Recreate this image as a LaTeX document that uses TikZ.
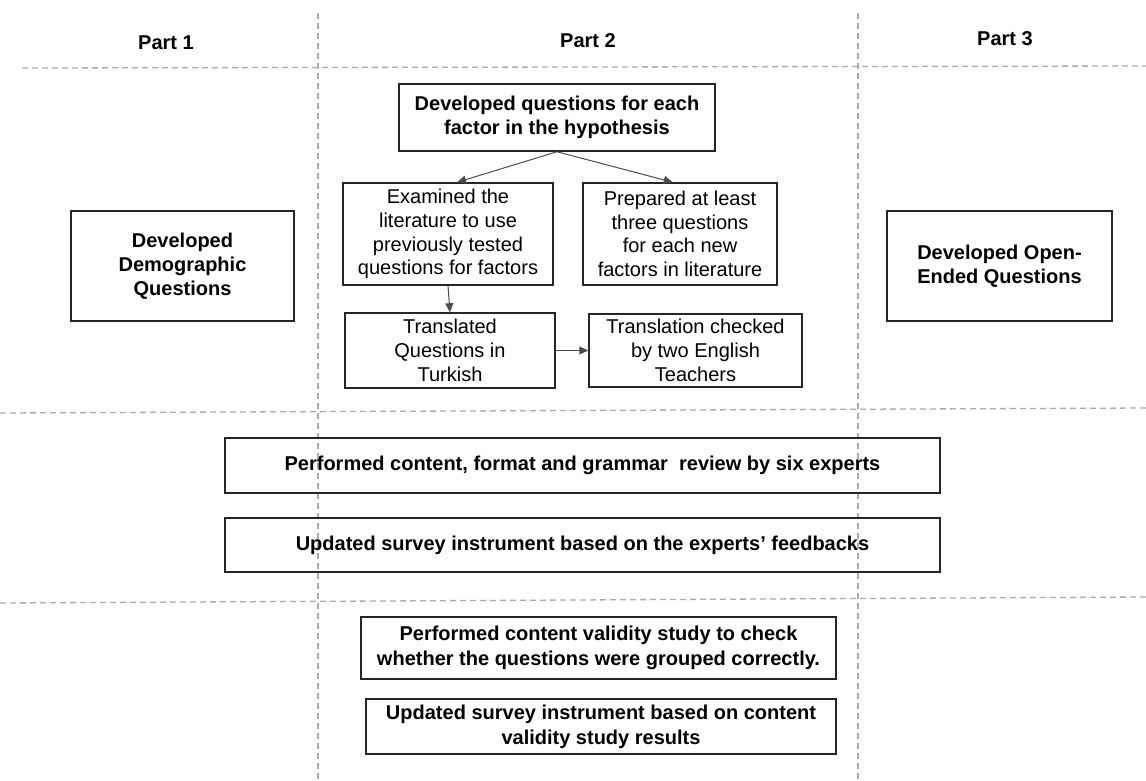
\documentclass[tikz,border=0pt]{standalone}
\usepackage{fontspec}
\setmainfont{Liberation Sans}
\usetikzlibrary{arrows.meta}
\begin{document}
\begin{tikzpicture}[x=1pt,y=-1pt,
  grid/.style={draw=black!33, line width=1.3pt, dash pattern=on 6pt off 4pt},
  box/.style={draw=black!85, line width=1.5pt, align=center, inner sep=0pt},
  boldtext/.style={font=\fontsize{20}{24}\selectfont\bfseries},
  thintext/.style={font=\fontsize{20}{23.7}\selectfont},
  widetext/.style={font=\fontsize{20}{25}\selectfont\bfseries},
  partlabel/.style={font=\fontsize{20}{24}\selectfont\bfseries},
  link/.style={draw=black!70, line width=1pt, -{Triangle[length=9pt,width=8pt]}}]
\useasboundingbox (0,0) rectangle (1146,781);

% column and band separators
\draw[grid] (318,13) -- (318,781);
\draw[grid] (858,13) -- (858,781);
\draw[grid] (22,68) -- (1146,66);
\draw[grid] (0,413) -- (1146,408);
\draw[grid] (0,603) -- (1146,597);

% column headings
\node[partlabel] (p1) at (166,43) {Part 1};
\node[partlabel] (p2) at (588,41) {Part 2};
\node[partlabel] (p3) at (1005,39) {Part 3};

% part 1 and part 3
\node[box, boldtext, minimum width=223pt, minimum height=110pt] (demo) at (182.5,266)
  {Developed\\Demographic\\Questions};
\node[box, boldtext, minimum width=225pt, minimum height=110pt] (open) at (999.5,266)
  {Developed Open-\\Ended Questions};

% part 2 question development
\node[box, boldtext, minimum width=316pt, minimum height=67pt] (dev) at (557,117.5)
  {Developed questions for each\\factor in the hypothesis};
\node[box, thintext, minimum width=210pt, minimum height=102pt] (exam) at (448,234)
  {Examined the\\literature to use\\previously tested\\questions for factors};
\node[box, thintext, minimum width=194pt, minimum height=102pt] (prep) at (680,234)
  {Prepared at least\\three questions\\for each new\\factors in literature};
\node[box, thintext, minimum width=210pt, minimum height=75pt] (trans) at (450,350.5)
  {Translated\\Questions in\\Turkish};
\node[box, thintext, minimum width=213pt, minimum height=73pt] (check) at (695.5,350.5)
  {Translation checked\\by two English\\Teachers};

% review band
\node[box, widetext, minimum width=715pt, minimum height=55pt] (rev) at (582.5,465.5)
  {Performed content, format and grammar\ \ review by six experts};
\node[box, widetext, minimum width=715pt, minimum height=54pt] (upd) at (582.5,545)
  {Updated survey instrument based on the experts’ feedbacks};

% validity band
\node[box, widetext, minimum width=475pt, minimum height=62pt] (val) at (598.5,648)
  {Performed\ content validity study to check\\whether the questions were grouped correctly.};
\node[box, widetext, minimum width=470pt, minimum height=55pt] (upd2) at (601,726.5)
  {Updated survey instrument based on content\\validity study results};

% connectors
\draw[link] (dev.south) -- (exam.80);
\draw[link] (dev.south) -- (prep.98);
\draw[link] (exam.south) -- (trans.north);
\draw[link] (trans.east) -- (check.west);
\end{tikzpicture}
\end{document}
